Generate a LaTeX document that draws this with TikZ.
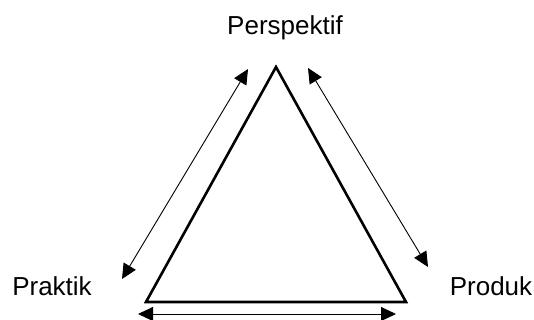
\documentclass[tikz,border=0pt]{standalone}
\usepackage{fontspec}
\setmainfont{Liberation Sans}
\usetikzlibrary{arrows.meta}
\begin{document}
\begin{tikzpicture}[x=1pt,y=-1pt,
  lbl/.style={anchor=base,inner sep=0pt,font=\fontsize{26}{30}\selectfont},
  tri/.style={line width=2.6pt,line join=miter},
  dbl/.style={line width=0.9pt,{Triangle[length=15pt,width=14pt]}-{Triangle[length=15pt,width=14pt]}}]
\useasboundingbox (0,0) rectangle (534,320);
\node[lbl] (persp) at (285,35) {Perspektif};
\node[lbl] (prak) at (52,295) {Praktik};
\node[lbl] (prod) at (491,295) {Produk};
\coordinate (A) at (276,67);
\coordinate (B) at (146,302);
\coordinate (C) at (406,302);
\draw[tri] (A) -- (B) -- (C) -- cycle;
\coordinate (l1) at (122,279);
\coordinate (l2) at (248,69);
\coordinate (r1) at (308,68);
\coordinate (r2) at (428,267);
\coordinate (b1) at (138,314);
\coordinate (b2) at (396,314);
\draw[dbl] (l1) -- (l2);
\draw[dbl] (r1) -- (r2);
\draw[dbl] (b1) -- (b2);
\end{tikzpicture}
\end{document}
